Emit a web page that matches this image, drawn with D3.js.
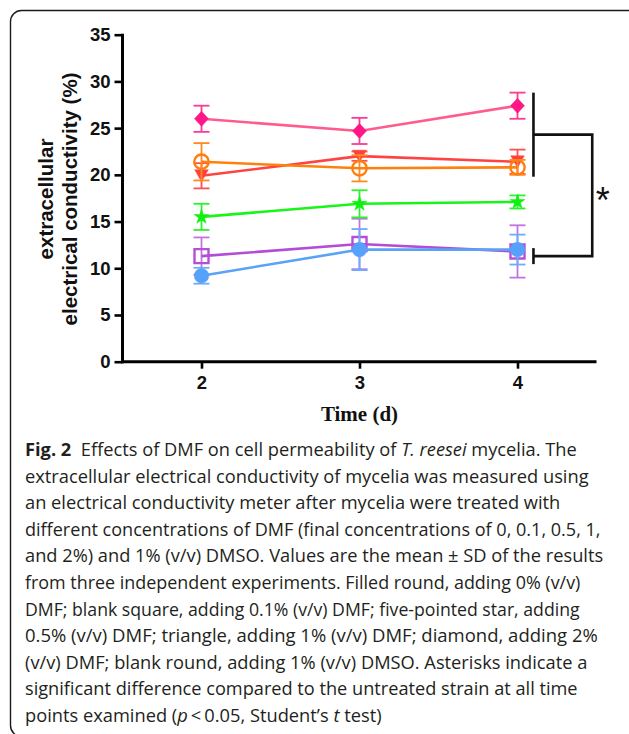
<!DOCTYPE html>
<html>
<head>
<meta charset="utf-8">
<script src="https://cdn.jsdelivr.net/npm/d3@7"></script>
<style>
  html, body { margin: 0; padding: 0; background: #fff; }
  svg { display: block; }
</style>
</head>
<body>
<svg id="chart" width="629" height="734"></svg>
<script>
// ---------------- DATA ----------------
const days = [2, 3, 4];
const yTicks = [0, 5, 10, 15, 20, 25, 30, 35];

const filledRoundMean = [9.2, 12.0, 12.0];   // 0% DMF
const filledRoundSD   = [0.85, 2.2, 1.6];
const blankSquareMean = [11.3, 12.6, 11.8];  // 0.1% DMF
const blankSquareSD   = [2.0, 2.7, 2.8];
const starMean        = [15.5, 16.9, 17.1];  // 0.5% DMF
const starSD          = [1.4, 1.45, 0.7];
const triangleMean    = [19.9, 22.0, 21.4];  // 1% DMF
const triangleSD      = [1.35, 0.5, 1.3];
const blankRoundMean  = [21.4, 20.7, 20.8];  // 1% DMSO
const blankRoundSD    = [2.0, 1.4, 0.8];
const diamondMean     = [26.0, 24.7, 27.4];  // 2% DMF
const diamondSD       = [1.4, 1.4, 1.4];

// significance bracket (data units)
const bracketUpper = [19.8, 28.8];
const bracketLower = 11.3;

const xLabel = "Time (d)";
const yLabelLines = ["extracellular", "electrical conductivity (%)"];

const captionLines = [
  [{t: "Fig. 2", b: true}, {t: "\u00a0\u00a0Effects of DMF on cell permeability of "}, {t: "T. reesei", i: true}, {t: " mycelia. The"}],
  [{t: "extracellular electrical conductivity of mycelia was measured using"}],
  [{t: "an electrical conductivity meter after mycelia were treated with"}],
  [{t: "different concentrations of DMF (final concentrations of 0, 0.1, 0.5, 1,"}],
  [{t: "and 2%) and 1% (v/v) DMSO. Values are the mean\u00a0\u00b1\u00a0SD of the results"}],
  [{t: "from three independent experiments. Filled round, adding 0% (v/v)"}],
  [{t: "DMF; blank square, adding 0.1% (v/v) DMF; five-pointed star, adding"}],
  [{t: "0.5% (v/v) DMF; triangle, adding 1% (v/v) DMF; diamond, adding 2%"}],
  [{t: "(v/v) DMF; blank round, adding 1% (v/v) DMSO. Asterisks indicate a"}],
  [{t: "significant difference compared to the untreated strain at all time"}],
  [{t: "points examined ("}, {t: "p", i: true}, {t: "\u2009<\u20090.05, Student\u2019s "}, {t: "t", i: true}, {t: " test)"}]
];
const captionRightEdges = [577, 589, 561, 601, 603, 581, 580, 598, 588, 578, 382];

// ---------------- SERIES TABLE ----------------
const series = [
  {mean: blankSquareMean, sd: blankSquareSD, shape: "square", stroke: "#b54fd8", fill: "none", line: "#b24ed6", err: "#c373e2"},
  {mean: filledRoundMean, sd: filledRoundSD, shape: "circle", stroke: "#56a2fb", fill: "#56a2fb", line: "#5aa2f6", err: "#6aaefb"},
  {mean: starMean, sd: starSD, shape: "star", stroke: "#10f010", fill: "#10f010", line: "#19f419", err: "#2af52a"},
  {mean: triangleMean, sd: triangleSD, shape: "triangle", stroke: "#ff4040", fill: "#ff4040", line: "#ff4242", err: "#ff5050"},
  {mean: blankRoundMean, sd: blankRoundSD, shape: "ocircle", stroke: "#ff7f0e", fill: "none", line: "#ff800f", err: "#ff8a1e"},
  {mean: diamondMean, sd: diamondSD, shape: "diamond", stroke: "#ff1787", fill: "#ff1787", line: "#ff5c8e", err: "#ff3a93"}
];

// ---------------- DRAW ----------------
const svg = d3.select("#chart");

// frame
svg.append("rect")
  .attr("x", 10.5).attr("y", 10.5)
  .attr("width", 630).attr("height", 726)
  .attr("rx", 11).attr("ry", 11)
  .attr("fill", "none").attr("stroke", "#1a1a1a").attr("stroke-width", 1.4);

const x = d3.scaleLinear().domain([1.5, 4.5]).range([122.5, 596.5]);
const y = d3.scaleLinear().domain([0, 35]).range([361.7, 34.7]);

const axisFont = "'Liberation Sans', Arial, Helvetica, sans-serif";

// y axis
const yAxis = svg.append("g")
  .attr("transform", `translate(${x(1.5)},0)`)
  .call(d3.axisLeft(y).tickValues(yTicks).tickSize(8).tickPadding(4).tickSizeOuter(0));
// x axis
const xAxis = svg.append("g")
  .attr("transform", `translate(0,${y(0)})`)
  .call(d3.axisBottom(x).tickValues(days).tickSize(7).tickPadding(7).tickSizeOuter(0).tickFormat(d3.format("d")));

[yAxis, xAxis].forEach(g => {
  g.select(".domain").attr("stroke", "#000").attr("stroke-width", 3);
  g.selectAll(".tick line").attr("stroke", "#000").attr("stroke-width", 2.6);
  g.selectAll(".tick text")
    .attr("fill", "#111")
    .style("font-family", axisFont)
    .style("font-weight", "bold")
    .style("font-size", "18.5px");
});
xAxis.select(".domain").attr("d", `M${x(1.5) - 1.5},0H${x(4.5)}`);
yAxis.select(".domain").attr("d", `M0,${y(35) - 1}V${y(0) + 1.5}`);

// axis titles
svg.append("text")
  .attr("x", x(3)).attr("y", 421)
  .attr("text-anchor", "middle")
  .style("font-family", "'Liberation Serif', 'Times New Roman', serif")
  .style("font-weight", "bold")
  .style("font-size", "21px")
  .attr("fill", "#111")
  .text(xLabel);

const yLabelX = [45.5, 69.5];
yLabelLines.forEach((t, i) => {
  svg.append("text")
    .attr("transform", `translate(${yLabelX[i]},199) rotate(-90)`)
    .attr("text-anchor", "middle")
    .attr("dominant-baseline", "central")
    .style("font-family", axisFont)
    .style("font-weight", "bold")
    .style("font-size", "20.5px")
    .attr("fill", "#111")
    .text(t);
});

// symbol generators
function shapePath(shape) {
  switch (shape) {
    case "square": return "M-7,-7H7V7H-7Z";
    case "circle": return d3.symbol(d3.symbolCircle, Math.PI * 7.3 * 7.3)();
    case "ocircle": return d3.symbol(d3.symbolCircle, Math.PI * 7.2 * 7.2)();
    case "star": return d3.symbol(d3.symbolStar, 70)();
    case "triangle": return "M-6.8,-6L6.8,-6L0,6Z";
    case "diamond": return "M0,-7.5L7,0L0,7.5L-7,0Z";
  }
}

const capHalf = 8;
series.forEach(s => {
  const pts = days.map((d, i) => ({d, m: s.mean[i], sd: s.sd[i]}));
  const g = svg.append("g");
  const eb = g.selectAll(".eb").data(pts).enter().append("g")
    .attr("stroke", s.err).attr("stroke-width", 1.8).attr("fill", "none");
  eb.append("line")
    .attr("x1", p => x(p.d)).attr("x2", p => x(p.d))
    .attr("y1", p => y(p.m + p.sd)).attr("y2", p => y(p.m - p.sd));
  eb.append("line")
    .attr("x1", p => x(p.d) - capHalf).attr("x2", p => x(p.d) + capHalf)
    .attr("y1", p => y(p.m + p.sd)).attr("y2", p => y(p.m + p.sd));
  eb.append("line")
    .attr("x1", p => x(p.d) - capHalf).attr("x2", p => x(p.d) + capHalf)
    .attr("y1", p => y(p.m - p.sd)).attr("y2", p => y(p.m - p.sd));
  g.append("path")
    .datum(pts)
    .attr("fill", "none").attr("stroke", s.line).attr("stroke-width", 2.6)
    .attr("d", d3.line().x(p => x(p.d)).y(p => y(p.m)));
  g.selectAll(".mk").data(pts).enter().append("path")
    .attr("transform", p => `translate(${x(p.d)},${y(p.m)})`)
    .attr("d", shapePath(s.shape))
    .attr("fill", s.fill)
    .attr("stroke", s.stroke)
    .attr("stroke-width", s.fill === "none" ? 2.4 : 0.5);
});

// significance bracket
const bx0 = x(4.101), bx1 = x(4.473);
const br = svg.append("g").attr("stroke", "#111").attr("stroke-width", 2.6).attr("fill", "none");
br.append("line").attr("x1", bx0).attr("x2", bx0).attr("y1", y(bracketUpper[1])).attr("y2", y(bracketUpper[0]));
const midY = y((bracketUpper[0] + bracketUpper[1]) / 2);
br.append("path").attr("d", `M${bx0},${midY}H${bx1}V${y(bracketLower)}H${bx0}`);
br.append("line").attr("x1", bx0).attr("x2", bx0).attr("y1", y(bracketLower) - 8).attr("y2", y(bracketLower) + 8);
svg.append("text")
  .attr("x", x(4.54)).attr("y", 213)
  .attr("text-anchor", "middle")
  .style("font-family", axisFont)
  .style("font-size", "36px")
  .attr("fill", "#111")
  .text("*");

// caption
const capFont = "'Open Sans', 'Noto Sans', sans-serif";
captionLines.forEach((parts, i) => {
  const baseY = 456 + i * 26.6;
  const t = svg.append("text")
    .attr("x", 0).attr("y", 0)
    .style("font-family", capFont)
    .style("font-size", "18px")
    .attr("fill", "#231f20");
  parts.forEach(p => {
    t.append("tspan")
      .style("font-weight", p.b ? "bold" : "normal")
      .style("font-style", p.i ? "italic" : "normal")
      .text(p.t);
  });
  const w = t.node().getComputedTextLength();
  const target = captionRightEdges[i] - 25;
  const k = target / w;
  t.attr("transform", `translate(25,${baseY}) scale(${k},1)`);
});
</script>
</body>
</html>
